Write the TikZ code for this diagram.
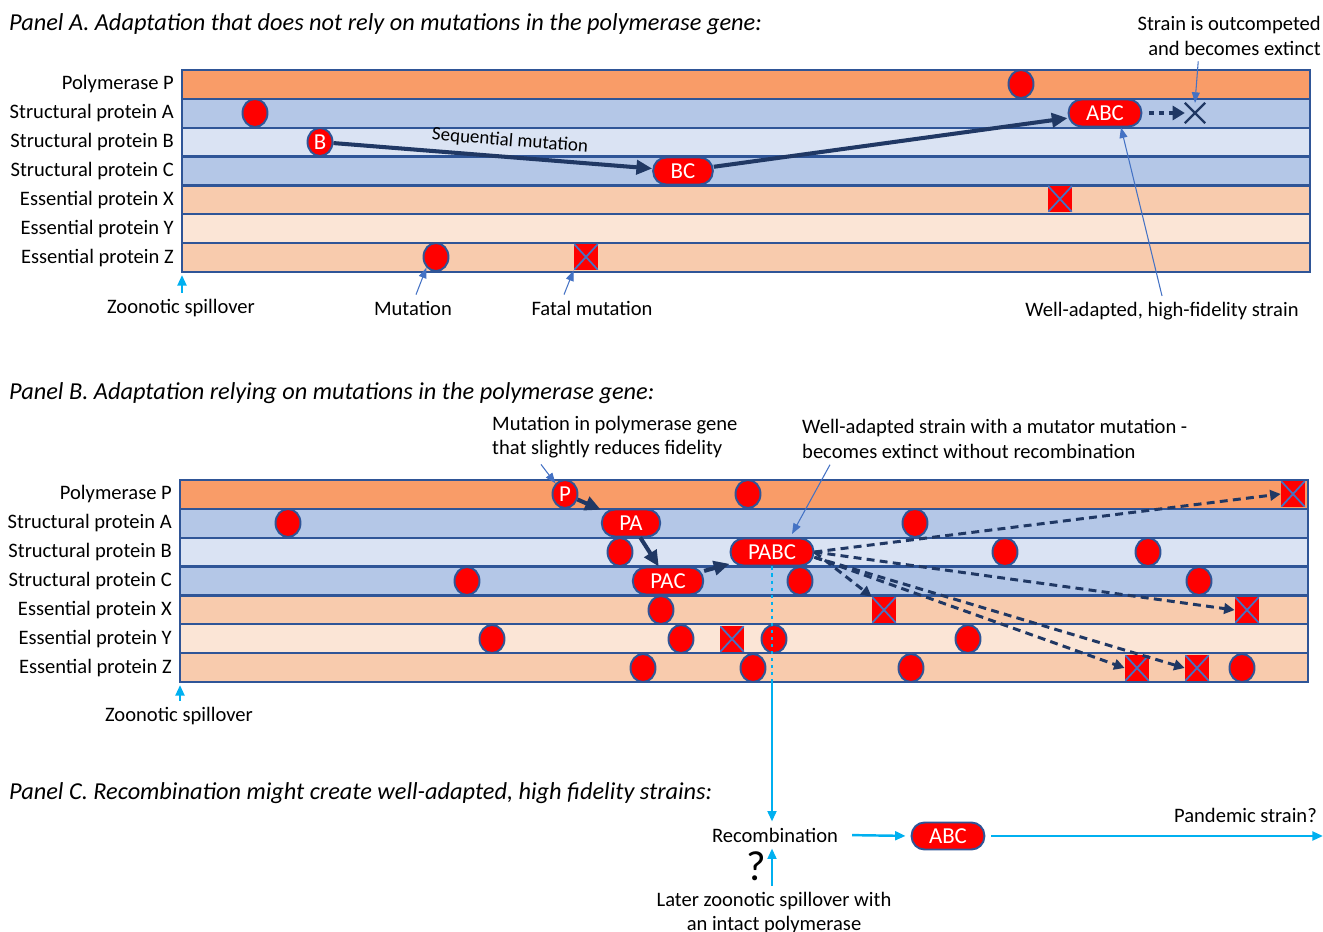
\documentclass[tikz,border=0pt]{standalone}
\usepackage{fontspec}
\setmainfont{Carlito}
\usetikzlibrary{arrows.meta,positioning,shapes.geometric,shapes.misc}

\definecolor{polyP}{RGB}{249,156,104}
\definecolor{strA}{RGB}{180,199,231}
\definecolor{strB}{RGB}{218,227,243}
\definecolor{essX}{RGB}{248,203,173}
\definecolor{essY}{RGB}{251,229,214}
\definecolor{rim}{RGB}{47,85,151}
\definecolor{navy}{RGB}{32,56,100}
\definecolor{note}{RGB}{68,114,196}
\definecolor{sky}{RGB}{0,176,240}

% seven gene lanes: name, left x, right x, top y
\newcommand{\lanes}[4]{%
  \foreach \c/\t [count=\i] in {polyP/Polymerase P,strA/Structural protein A,strB/Structural protein B,strA/Structural protein C,essX/Essential protein X,essY/Essential protein Y,essX/Essential protein Z}{
    \draw[lane,fill=\c] (#2,#4+\i*28.86-28.86) rectangle (#3,#4+\i*28.86);
    \node[anchor=east] (#1\i) at (#2-2,#4+\i*28.86-14.43) {\t};
  }
}

\begin{document}
\begin{tikzpicture}[x=0.02cm,y=-0.02cm,font=\fontsize{11.7}{14}\selectfont,
  lane/.style={draw=rim,line width=1.3pt},
  title/.style={anchor=west,font=\fontsize{13.85}{16}\selectfont\itshape},
  mut/.style={ellipse,draw=rim,line width=1.1pt,fill=red,text=white,minimum width=0.5cm,minimum height=0.56cm,inner sep=0pt,font=\fontsize{13}{14}\selectfont},
  pill/.style={draw=rim,line width=1.1pt,fill=red,text=white,rounded corners=0.26cm,minimum height=0.54cm,inner xsep=0.35cm,inner ysep=0pt,font=\fontsize{13}{14}\selectfont},
  fatal/.style={fill=red,minimum width=0.48cm,minimum height=0.52cm,inner sep=0pt,
    path picture={\draw[note,line width=1pt] (path picture bounding box.north west) -- (path picture bounding box.south east)
      (path picture bounding box.south west) -- (path picture bounding box.north east);}},
  seq/.style={navy,line width=2.3pt,-{Triangle[length=9pt,width=8pt]}},
  spread/.style={navy,line width=1.7pt,dash pattern=on 4.5pt off 3pt,-{Triangle[length=6pt,width=6pt]}},
  hint/.style={note,line width=0.6pt,-{Triangle[length=6pt,width=4.5pt]}},
  flow/.style={sky,line width=1.4pt,-{Triangle[length=6pt,width=5pt]}}]
\useasboundingbox (0,0) rectangle (1323,932);

% Panel A
\node[title] (tA) at (3,24) {Panel A. Adaptation that does not rely on mutations in the polymerase gene:};
\lanes{la}{182}{1310}{70}
\node[mut] (a1) at (255,113) {};
\node[mut] (b) at (320,142) {B};
\node[pill] (bc) at (683,171) {BC};
\node[pill] (abc) at (1105,113) {ABC};
\node[mut] (a2) at (1021,84) {};
\node[fatal] (a3) at (1060,199) {};
\node[mut] (a4) at (436,257) {};
\node[fatal] (a5) at (586,257) {};
\node[cross out,draw=navy,line width=1.3pt,minimum size=0.36cm,inner sep=0pt] (gone) at (1195,113) {};

\draw[seq] (b) -- node[sloped,above,pos=0.55,text=black,font=\fontsize{10.8}{12}\selectfont] {Sequential mutation} (bc);
\draw[seq] (bc) -- (abc);
\draw[navy,line width=2.8pt,dash pattern=on 2.8pt off 2.8pt,shorten <=4pt,-{Triangle[length=7pt,width=8pt]}] (abc) -- (gone);

\node[anchor=north east,align=right] (outc) at (1327,10) {Strain is outcompeted\\and becomes extinct};
\draw[hint] ([xshift=-0.62cm]outc.south) -- (gone.north);
\node (hifi) at (1162,311) {Well-adapted, high-fidelity strain};
\draw[hint] (hifi.north) -- ([xshift=0.32cm]abc.south);
\coordinate (aSW) at (182,275);
\node (zooA) at (181,308) {Zoonotic spillover};
\draw[flow] (zooA.north -| aSW) -- (aSW);
\node (mutl) at (413,308) {Mutation};
\draw[hint] ([xshift=0.06cm]mutl.north) -- (a4.south west);
\node (fatl) at (592,308) {Fatal mutation};
\draw[hint] ([xshift=-0.56cm]fatl.north) -- (a5.south west);

% Panel B
\node[title] (tB) at (3,393) {Panel B. Adaptation relying on mutations in the polymerase gene:};
\lanes{lb}{180}{1308}{480}
\node[mut] (p) at (565,494) {P};
\node[pill] (pa) at (631,523) {PA};
\node[pill] (pac) at (668,581) {PAC};
\foreach \x/\y [count=\k] in {748/494,288/523,915/523,620/552,1005/552,1148/552,467/581,800/581,1199/581,661/610,492/639,681/639,774/639,968/639,643/668,753/668,911/668,1242/668}
  \node[mut] (m\k) at (\x,\y) {};
\node[fatal] (y1) at (732,639) {};
\node[fatal] (f1) at (1293,494) {};
\node[fatal] (f2) at (884,610) {};
\node[fatal] (f3) at (1247,610) {};
\node[fatal] (f4) at (1137,668) {};
\node[fatal] (f5) at (1197,668) {};
\node[pill] (pabc) at (772,552) {PABC};

\draw[seq] (p) -- (pa);
\draw[seq] (pa) -- (pac);
\draw[seq] (pac) -- (pabc);
\draw[spread] (pabc.east) -- (f1.west);
\draw[spread] (pabc.east) -- (f2.north west);
\draw[spread] (pabc.east) -- (f3.west);
\draw[spread] ([yshift=-3pt]pabc.east) -- (f4.west);
\draw[spread] ([yshift=-3pt]pabc.east) -- (f5.west);

\node[anchor=west,align=left] (mutP) at (486,437) {Mutation in polymerase gene\\that slightly reduces fidelity};
\draw[hint] ([xshift=1.1cm]mutP.south west) -- (p.north west);
\node[anchor=west,align=left] (mutator) at (796,439) {Well-adapted strain with a mutator mutation -\\becomes extinct without recombination};
\draw[hint] ([xshift=0.68cm]mutator.south west) -- ([xshift=0.4cm,yshift=2pt]pabc.north);
\coordinate (bSW) at (180,685);
\node (zooB) at (179,716) {Zoonotic spillover};
\draw[flow] (zooB.north -| bSW) -- (bSW);

% Panel C
\node[title] (tC) at (3,793) {Panel C. Recombination might create well-adapted, high fidelity strains:};
\coordinate (cut) at (772,682);
\node (rec) at (775,835) {Recombination};
\node[pill] (abcC) at (948,836) {ABC};
\node[anchor=east] (pand) at (1323,815) {Pandemic strain?};
\coordinate (far) at (1323,836);
\node (qm) at (756,866) {\fontsize{24}{26}\selectfont ?};
\node[align=center] (later) at (774,913) {Later zoonotic spillover with\\an intact polymerase};

\draw[sky,line width=1.4pt,dash pattern=on 2pt off 2pt] (pabc.south) -- (cut);
\draw[flow] (cut) -- (cut |- rec.north);
\draw[flow] (later.north -| cut) -- (rec.south -| cut);
\draw[flow,shorten <=0.16cm,shorten >=0.1cm] (rec.east) -- (abcC.west);
\draw[flow,shorten <=0.12cm] (abcC.east) -- (far);

\end{tikzpicture}
\end{document}
